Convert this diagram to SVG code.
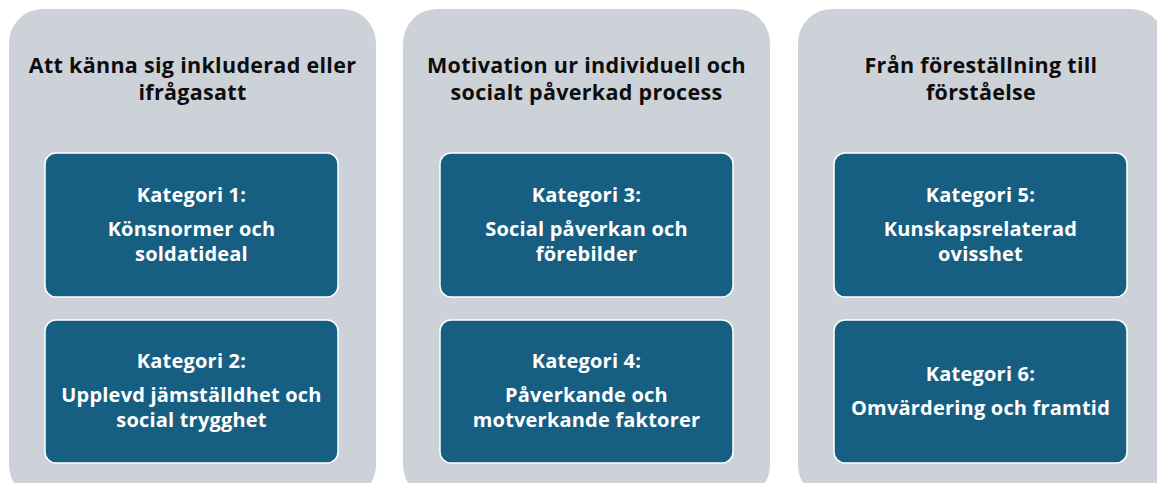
<svg xmlns="http://www.w3.org/2000/svg" width="1157" height="483" viewBox="0 0 1157 483">
<style>
.panel{fill:#CDD2D9;}
.box{fill:#175F82;stroke:#FFFFFF;stroke-width:1.5;}
.title{font-family:"Open Sans","Liberation Sans",sans-serif;font-weight:700;font-size:21.5px;letter-spacing:0.3px;fill:#0D0D0D;text-anchor:middle;}
.lbl{font-family:"Open Sans","Liberation Sans",sans-serif;font-weight:700;font-size:20px;letter-spacing:0.2px;fill:#FFFFFF;text-anchor:middle;}
</style>
<rect width="1157" height="483" fill="#FFFFFF"/>
<g id="col1">
<rect class="panel" x="9" y="9" width="367" height="490" rx="34"/>
<text class="title" x="192.5" y="73">Att känna sig inkluderad eller</text>
<text class="title" x="192.5" y="100">ifrågasatt</text>
</g>
<g id="col2">
<rect class="panel" x="403" y="9" width="367" height="490" rx="34"/>
<text class="title" x="586.5" y="73">Motivation ur individuell och</text>
<text class="title" x="586.5" y="100">socialt påverkad process</text>
</g>
<g id="col3">
<rect class="panel" x="798" y="9" width="367" height="490" rx="34"/>
<text class="title" x="981" y="73">Från föreställning till</text>
<text class="title" x="981" y="100">förståelse</text>
</g>
<g id="kat1">
<rect class="box" x="45" y="153" width="293" height="144" rx="11"/>
<text class="lbl" x="191.5" y="202">Kategori 1:</text>
<text class="lbl" x="191.5" y="236">Könsnormer och</text>
<text class="lbl" x="191.5" y="261">soldatideal</text>
</g>
<g id="kat2">
<rect class="box" x="45" y="320" width="293" height="143" rx="11"/>
<text class="lbl" x="191.5" y="368">Kategori 2:</text>
<text class="lbl" x="191.5" y="402">Upplevd jämställdhet och</text>
<text class="lbl" x="191.5" y="427">social trygghet</text>
</g>
<g id="kat3">
<rect class="box" x="440" y="153" width="293" height="144" rx="11"/>
<text class="lbl" x="586.5" y="202">Kategori 3:</text>
<text class="lbl" x="586.5" y="236">Social påverkan och</text>
<text class="lbl" x="586.5" y="261">förebilder</text>
</g>
<g id="kat4">
<rect class="box" x="440" y="320" width="293" height="143" rx="11"/>
<text class="lbl" x="586.5" y="368">Kategori 4:</text>
<text class="lbl" x="586.5" y="402">Påverkande och</text>
<text class="lbl" x="586.5" y="427">motverkande faktorer</text>
</g>
<g id="kat5">
<rect class="box" x="834" y="153" width="293" height="144" rx="11"/>
<text class="lbl" x="980.5" y="202">Kategori 5:</text>
<text class="lbl" x="980.5" y="236">Kunskapsrelaterad</text>
<text class="lbl" x="980.5" y="261">ovisshet</text>
</g>
<g id="kat6">
<rect class="box" x="834" y="320" width="293" height="143" rx="11"/>
<text class="lbl" x="980.5" y="381">Kategori 6:</text>
<text class="lbl" x="980.5" y="415">Omvärdering och framtid</text>
</g>
<g id="connectors"></g>
</svg>
